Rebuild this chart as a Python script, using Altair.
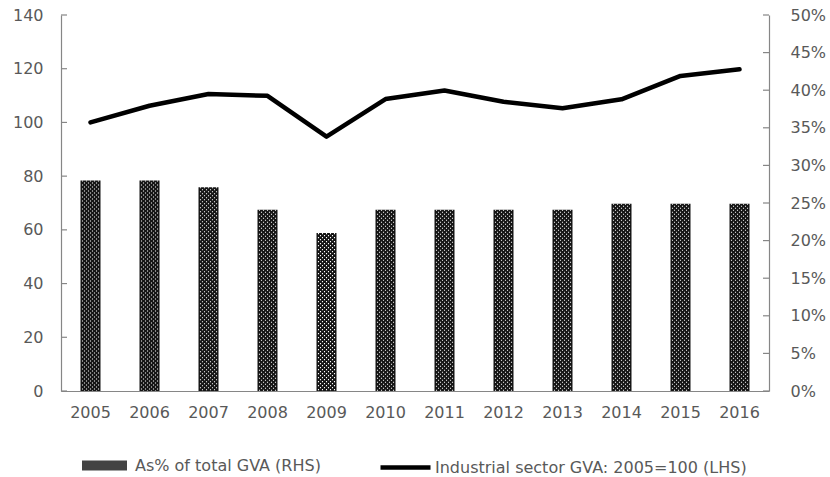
import altair as alt
import pandas as pd

# Industrial sector gross value added, 2005-2016
years = [str(y) for y in range(2005, 2017)]
gva_index = [100, 106.2, 110.6, 109.9, 94.7, 108.7, 111.9, 107.7, 105.3, 108.6, 117.3, 119.8]
gva_share = [0.280, 0.280, 0.271, 0.241, 0.210, 0.241, 0.241, 0.241, 0.241, 0.249, 0.249, 0.249]

share_name = "As% of total GVA (RHS)"
index_name = "Industrial sector GVA: 2005=100 (LHS)"

left_ticks = [0, 20, 40, 60, 80, 100, 120, 140]
right_ticks = [0, 0.05, 0.10, 0.15, 0.20, 0.25, 0.30, 0.35, 0.40, 0.45, 0.50]

df = pd.DataFrame({
    "year": years,
    "index": gva_index,
    "share": gva_share,
    "share_name": share_name,
    "index_name": index_name,
})

FONT = "DejaVu Sans"
TEXT = "#595959"
AXIS = "#868686"
W, H = 708, 376

x_enc = alt.X(
    "year:O",
    scale=alt.Scale(paddingInner=0.6, paddingOuter=0.3),
    axis=alt.Axis(title=None, labelAngle=0, ticks=False, labelPadding=13,
                  domainColor=AXIS, domainWidth=1.2),
)

y_left = alt.Scale(domain=[0, 140], nice=False, zero=True)
y_right = alt.Scale(domain=[0, 0.5], nice=False, zero=True)

right_axis = alt.Axis(orient="right", title=None, values=right_ticks, format=".0%",
                      tickSize=0, labelPadding=21, grid=False,
                      domainColor=AXIS, domainWidth=1.2)
left_axis = alt.Axis(orient="left", title=None, values=left_ticks, tickSize=0,
                     labelPadding=18, grid=False, domainColor=AXIS, domainWidth=1.2)

# Bars: share of total GVA on the right-hand axis
bars = alt.Chart(df).mark_bar(size=20).encode(
    x=x_enc,
    y=alt.Y("share:Q", scale=y_right, axis=right_axis),
    fill=alt.Fill("share_name:N", scale=alt.Scale(range=["#141414"]),
                  legend=alt.Legend(title=None, orient="none", legendX=21, legendY=428,
                                    padding=0, symbolType="M-1,-0.22L1,-0.22L1,0.22L-1,0.22Z",
                                    symbolSize=2025, symbolOpacity=0.8, symbolStrokeWidth=0,
                                    labelOffset=8, labelLimit=400)),
)

# White dot texture laid over the dark bars
dot_layers = []
for i, off in enumerate([-8, -6, -4, -2, 0, 2, 4, 6, 8]):
    dot_layers.append(
        alt.Chart(df).mark_rule(
            color="white", strokeWidth=1.1, strokeDash=[1.1, 2.9],
            strokeDashOffset=0 if i % 2 == 0 else 2, xOffset=off,
        ).encode(
            x=alt.X("year:O"),
            y=alt.Y("share:Q", scale=y_right, axis=right_axis),
            y2=alt.datum(0),
        )
    )

# Inward tick marks on the right axis
right_tick_marks = alt.Chart(pd.DataFrame({"share": right_ticks})).mark_rule(
    color=AXIS, strokeWidth=1.2
).encode(
    y=alt.Y("share:Q", scale=y_right, axis=right_axis),
    x=alt.value(W - 6), x2=alt.value(W),
)

# Line: GVA index on the left-hand axis
line = alt.Chart(df).mark_line(strokeWidth=4.5, strokeCap="round", strokeJoin="round").encode(
    x=x_enc,
    y=alt.Y("index:Q", scale=y_left, axis=left_axis),
    stroke=alt.Stroke("index_name:N", scale=alt.Scale(range=["black"]),
                      legend=alt.Legend(title=None, orient="none", legendX=317, legendY=425,
                                        padding=0, symbolType="stroke", symbolSize=2500,
                                        symbolStrokeWidth=4.5, labelOffset=2, labelLimit=400)),
)

# Inward tick marks on the left axis
left_tick_marks = alt.Chart(pd.DataFrame({"index": left_ticks})).mark_rule(
    color=AXIS, strokeWidth=1.2
).encode(
    y=alt.Y("index:Q", scale=y_left, axis=left_axis),
    x=alt.value(0), x2=alt.value(6),
)

chart = alt.layer(
    alt.layer(bars, *dot_layers, right_tick_marks),
    alt.layer(line, left_tick_marks),
).resolve_scale(y="independent").properties(
    width=W, height=H, autosize="none",
    padding={"left": 61, "top": 15, "right": 61, "bottom": 86},
    background="white",
).configure_view(stroke=None).configure_axis(
    labelFont=FONT, labelFontSize=16, labelColor=TEXT,
).configure_legend(
    labelFont=FONT, labelFontSize=16, labelColor=TEXT,
)

chart.save("out.html", embed_options={"renderer": "svg", "actions": False})
